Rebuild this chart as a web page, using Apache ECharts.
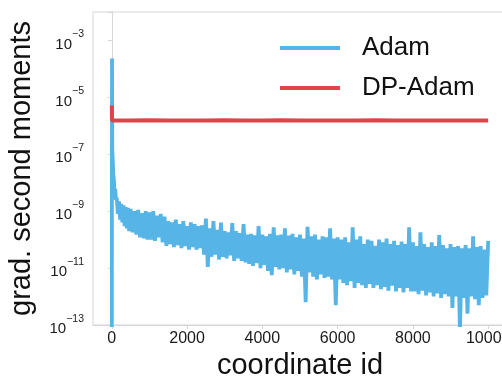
<!DOCTYPE html>
<html><head><meta charset="utf-8">
<script src="https://cdn.jsdelivr.net/npm/echarts@6/dist/echarts.min.js"></script>
<style>html,body{margin:0;padding:0;background:#fff}#c{width:502px;height:381px}</style>
</head><body><div id="c"></div>
<script>
const xTicks = [0, 2000, 4000, 6000, 8000, 10000];
const yTicks = [1e-13, 1e-11, 1e-9, 1e-7, 1e-5, 1e-3];
const seriesNames = ['Adam', 'DP-Adam'];

const adamX = [
  0, 5, 12, 25, 40, 55, 70, 90, 110, 130, 160, 190, 220, 250, 280, 310, 340, 370, 400, 430,
  460, 500, 550, 600, 650, 700, 750, 800, 850, 900, 950,
  1000, 1050, 1100, 1150, 1200, 1250, 1300, 1350, 1400, 1450,
  1500, 1550, 1600, 1650, 1700, 1750, 1800, 1850, 1900, 1950,
  2000, 2050, 2100, 2150, 2200, 2250, 2300, 2350, 2400, 2450,
  2500, 2550, 2600, 2650, 2700, 2750, 2800, 2850, 2900, 2950,
  3000, 3050, 3100, 3150, 3200, 3250, 3300, 3350, 3400, 3450,
  3500, 3550, 3600, 3650, 3700, 3750, 3800, 3850, 3900, 3950,
  4000, 4050, 4100, 4150, 4200, 4250, 4300, 4350, 4400, 4450,
  4500, 4550, 4600, 4650, 4700, 4750, 4800, 4850, 4900, 4950,
  5000, 5050, 5100, 5150, 5200, 5250, 5300, 5350, 5400, 5450,
  5500, 5550, 5600, 5650, 5700, 5750, 5800, 5850, 5900, 5950,
  6000, 6050, 6100, 6150, 6200, 6250, 6300, 6350, 6400, 6450,
  6500, 6550, 6600, 6650, 6700, 6750, 6800, 6850, 6900, 6950,
  7000, 7050, 7100, 7150, 7200, 7250, 7300, 7350, 7400, 7450,
  7500, 7550, 7600, 7650, 7700, 7750, 7800, 7850, 7900, 7950,
  8000, 8050, 8100, 8150, 8200, 8250, 8300, 8350, 8400, 8450,
  8500, 8550, 8600, 8650, 8700, 8750, 8800, 8850, 8900, 8950,
  9000, 9050, 9100, 9150, 9200, 9250, 9300, 9350, 9400, 9450,
  9500, 9550, 9600, 9650, 9700, 9750, 9800, 9850, 9900, 9950,
  10000
];
const adamY = [
  1e-14, 2.3e-4, 1.5e-7, 6e-8, 2e-8, 1.2e-8, 5e-9, 6e-9, 2.5e-9, 3e-9, 8e-10, 2.2e-9, 5e-10, 1.8e-9, 4e-10, 1.6e-9, 3e-10, 1.4e-9, 2.5e-10, 1.3e-9,
  2e-10, 1.2e-9, 1.8e-10, 1e-9, 1.5e-10, 1.1e-9, 1.2e-10, 8.5e-10, 1.1e-10, 1e-9, 1e-10,
  9e-10, 1e-10, 1e-9, 9e-11, 7e-10, 1.2e-10, 8e-10, 8e-11, 6.5e-10, 6e-11,
  4.5e-10, 7e-11, 4e-10, 5.5e-11, 5e-10, 6.5e-11, 3.5e-10, 5e-11, 4.5e-10, 6e-11,
  3e-10, 4.5e-11, 4e-10, 5.5e-11, 3.5e-10, 4.5e-11, 3e-10, 5e-11, 3.2e-10, 3e-11,
  5.5e-10, 1.1e-11, 2.5e-10, 2.5e-11, 4.5e-10, 3e-11, 2.2e-10, 2e-11, 4e-10, 2.5e-11,
  2e-10, 2.2e-11, 1.8e-10, 2.8e-11, 3.8e-10, 1.8e-11, 2e-10, 2.2e-11, 1.7e-10, 1.8e-11,
  3.5e-10, 1.6e-11, 1.5e-10, 1.4e-11, 1.6e-10, 1.2e-11, 1.4e-10, 1.5e-11, 3e-10, 1e-11,
  1.5e-10, 1.3e-11, 1.3e-10, 8e-12, 1.6e-10, 5.6e-12, 2.7e-10, 1.1e-11, 1.4e-10, 9e-12,
  1.5e-10, 1e-11, 2.5e-10, 7e-12, 1.4e-10, 9e-12, 1.6e-10, 6e-12, 1.2e-10, 8e-12,
  1.5e-10, 5e-12, 1.1e-10, 6.3e-13, 2.8e-10, 7e-12, 1.3e-10, 5e-12, 1.5e-10, 4e-12,
  1e-10, 6e-12, 1.3e-10, 4.5e-12, 1.2e-10, 5e-12, 2.5e-10, 4e-12, 1.1e-10, 5e-13,
  1.2e-10, 4e-12, 1e-10, 3e-12, 1.2e-10, 2.5e-12, 8e-11, 3.5e-12, 2.7e-10, 2e-12,
  1e-10, 3e-12, 1.3e-10, 2.5e-12, 7e-11, 2e-12, 1e-10, 2.8e-12, 9e-11, 2e-12,
  6e-11, 2.5e-12, 1e-10, 1.8e-12, 8e-11, 2.2e-12, 1.1e-10, 1.6e-12, 7e-11, 2.4e-12,
  9e-11, 1.5e-12, 6.5e-11, 2e-12, 8.5e-11, 1.4e-12, 7e-11, 2e-12, 2.7e-10, 1.5e-12,
  8e-11, 1.5e-12, 6e-11, 1.2e-12, 1.8e-10, 1.6e-12, 7e-11, 1.1e-12, 5.5e-11, 1.4e-12,
  8e-11, 1e-12, 6e-11, 1.3e-12, 1.45e-10, 9e-13, 6.5e-11, 1.2e-12, 5e-11, 1e-12,
  7e-11, 4e-13, 5.5e-11, 1e-12, 6e-11, 6e-14, 5e-11, 9e-13, 6.5e-11, 2.5e-13,
  5e-11, 1e-12, 1.3e-10, 8e-13, 5.5e-11, 5e-13, 6e-11, 9e-13, 4.5e-11, 1.1e-12,
  9e-11
];

const dpX = [0, 5, 500, 1000, 1500, 2000, 2500, 3000, 3500, 4000, 4500, 5000, 5500, 6000, 6500, 7000, 7500, 8000, 8500, 9000, 9500, 10000];
const dpY = [5.2e-6, 1.55e-6, 1.53e-6, 1.56e-6, 1.54e-6, 1.55e-6, 1.53e-6, 1.56e-6, 1.54e-6, 1.55e-6, 1.56e-6, 1.54e-6, 1.55e-6, 1.53e-6, 1.55e-6, 1.56e-6, 1.54e-6, 1.55e-6, 1.53e-6, 1.55e-6, 1.54e-6, 1.55e-6];

const FONT = 'Liberation Sans';
const BLUE = '#56B4E6';
const RED = '#E0434A';
const chart = echarts.init(document.getElementById('c'), null, {renderer: 'canvas'});

function yLabel(v) {
  const e = Math.round(Math.log10(v));
  const ok = yTicks.some(t => Math.round(Math.log10(t)) === e);
  if (!ok) return '';
  return '{b|10}{s|\u2212' + (-e) + '}';
}

chart.setOption({
  animation: false,
  backgroundColor: '#fff',
  grid: {left: 93, right: -5, top: 12, bottom: 56, show: true, borderColor: '#d6d6d6', borderWidth: 1,
    containLabel: false, outerBoundsMode: 'none'},
  legend: {
    orient: 'vertical', left: 280, top: 33, padding: 0, itemWidth: 60, itemHeight: 4, itemGap: 10,
    icon: 'rect',
    data: seriesNames,
    textStyle: {fontFamily: FONT, fontSize: 26, color: '#111', lineHeight: 30, padding: [0, 0, 0, 17]}
  },
  xAxis: {
    type: 'value', min: -500, max: 10500,
    name: 'coordinate id', nameLocation: 'middle', nameGap: 21,
    nameTextStyle: {fontFamily: FONT, fontSize: 29, color: '#111'},
    axisLine: {show: true, lineStyle: {color: '#d6d6d6'}},
    axisTick: {show: true, length: 4, lineStyle: {color: '#d6d6d6'}, customValues: xTicks},
    axisLabel: {fontFamily: FONT, fontSize: 16, color: '#1a1a1a', margin: 6, customValues: xTicks,
      hideOverlap: false, formatter: v => String(v)},
    splitLine: {show: false}
  },
  yAxis: {
    type: 'log', logBase: 10, min: 1e-13, max: 1e-2, interval: 2,
    name: 'grad. second moments', nameLocation: 'middle', nameGap: 57,
    nameTextStyle: {fontFamily: FONT, fontSize: 29, color: '#111'},
    axisLine: {show: true, lineStyle: {color: '#d6d6d6'}},
    axisTick: {show: true, length: 4, lineStyle: {color: '#d6d6d6'}},
    axisLabel: {
      margin: 9, formatter: yLabel, color: '#1a1a1a', fontFamily: FONT, fontSize: 15,
      rich: {
        b: {fontFamily: FONT, fontSize: 15, color: '#1a1a1a', verticalAlign: 'bottom', padding: [8, 0, 0, 0]},
        s: {fontFamily: FONT, fontSize: 10.5, color: '#1a1a1a', verticalAlign: 'top', padding: [0, 0, 10, 0]}
      }
    },
    splitLine: {show: false},
    minorTick: {show: false}
  },
  series: [
    {
      name: seriesNames[0], type: 'line', symbol: 'none', clip: true,
      data: adamX.map((x, i) => [x, adamY[i]]),
      lineStyle: {color: BLUE, width: 3.8},
      itemStyle: {color: BLUE}
    },
    {
      name: seriesNames[1], type: 'line', symbol: 'none', clip: true,
      data: dpX.map((x, i) => [x, dpY[i]]),
      lineStyle: {color: RED, width: 4},
      itemStyle: {color: RED}
    }
  ]
});
</script>
</body></html>
